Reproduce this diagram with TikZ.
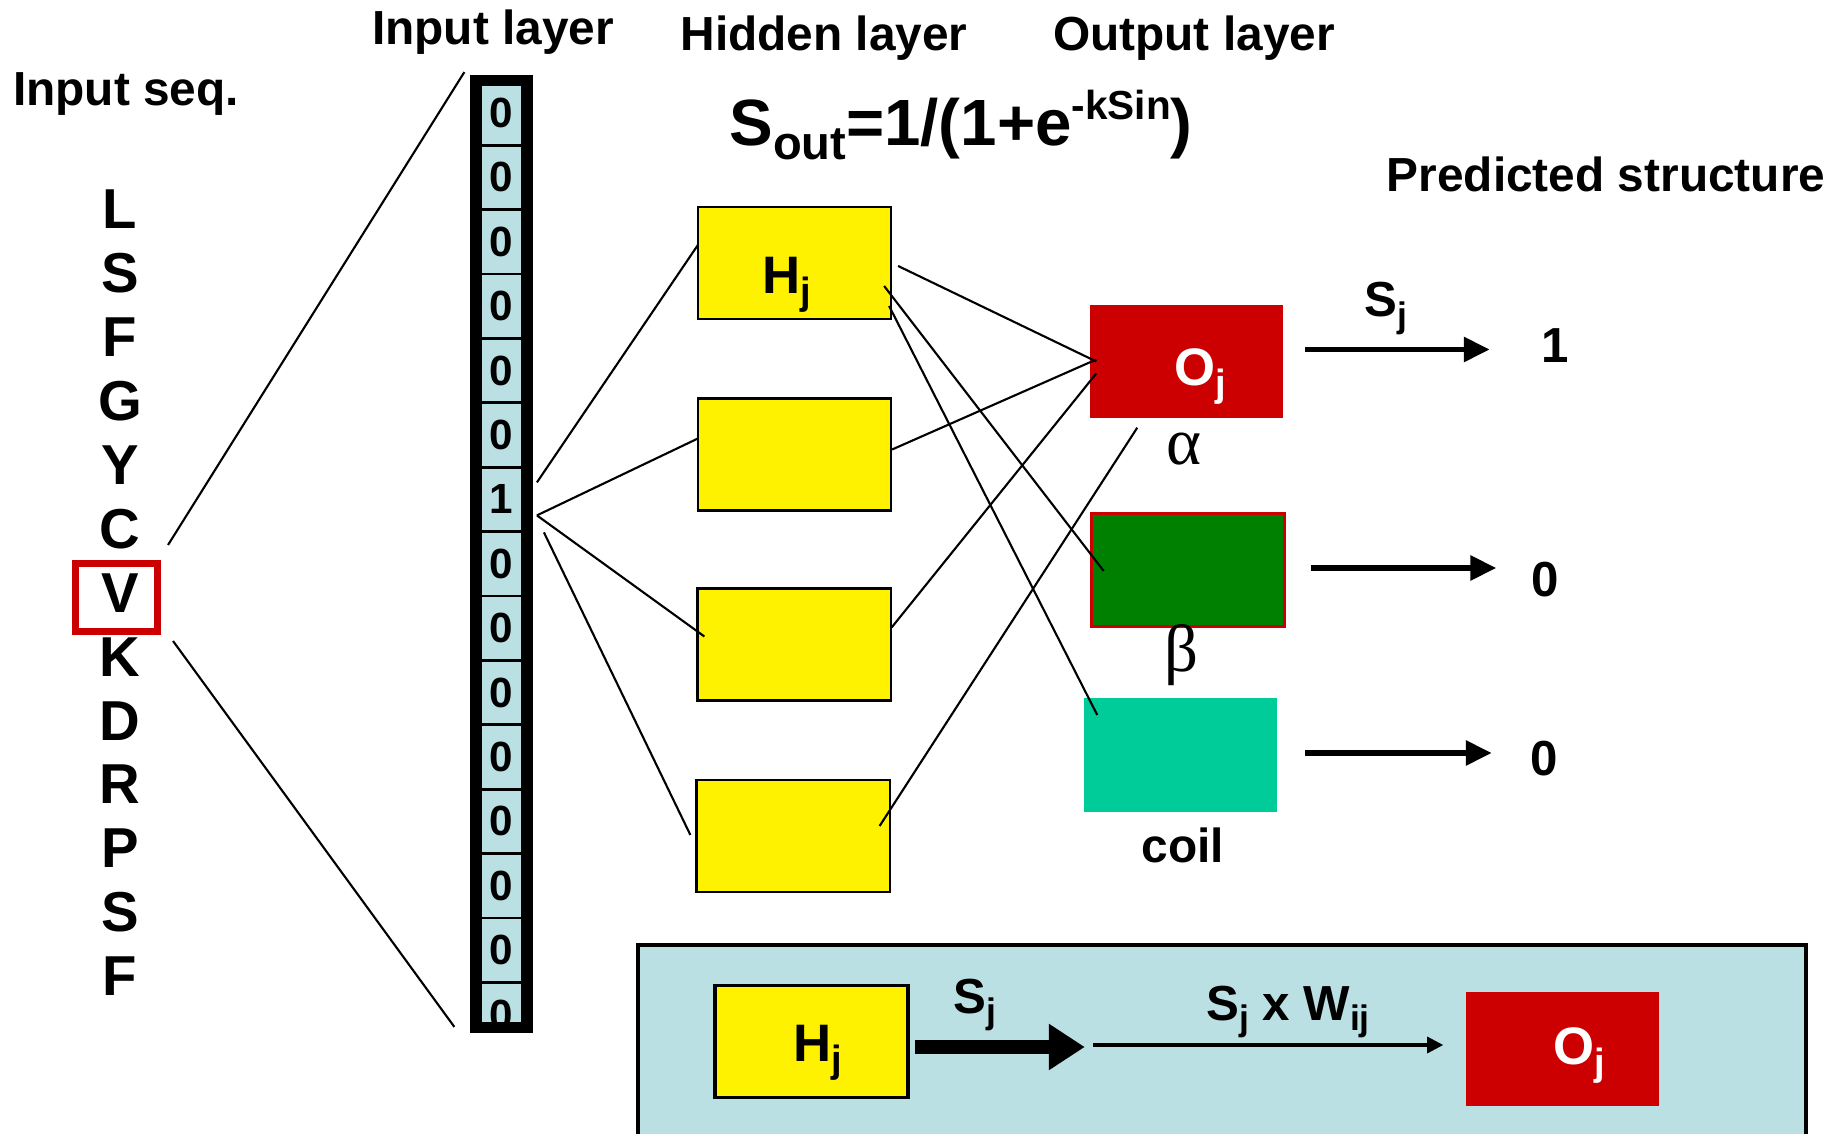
\documentclass[tikz,border=0pt]{standalone}
\usepackage{fontspec}
\setmainfont{Liberation Sans}
\newfontfamily\greekfont{Liberation Serif}
\usetikzlibrary{arrows.meta}
\definecolor{cellblue}{HTML}{BBE0E3}
\definecolor{outred}{HTML}{CC0000}
\definecolor{betagreen}{HTML}{008000}
\definecolor{coilgreen}{HTML}{00CC99}
\newcommand{\lowtxt}[1]{\raisebox{-0.4ex}{\scalebox{0.72}{#1}}}
\newcommand{\hightxt}[1]{\raisebox{0.77ex}{\scalebox{0.62}{#1}}}

\begin{document}
\begin{tikzpicture}[x=0.01cm, y=-0.01cm,
    title/.style={font=\bfseries\fontsize{13.6}{16}\selectfont},
    residue/.style={font=\bfseries\fontsize{16}{19}\selectfont},
    formula/.style={font=\bfseries\fontsize{18.6}{22}\selectfont},
    greek/.style={font=\greekfont\fontsize{19}{22}\selectfont},
    boxtext/.style={font=\bfseries\fontsize{15}{18}\selectfont, inner sep=0pt},
    arrowtext/.style={font=\bfseries\fontsize{14}{17}\selectfont},
    bit/.style={draw, line width=0.8pt, fill=cellblue, minimum width=0.54cm,
      minimum height=0.644cm, inner sep=0pt, font=\bfseries\fontsize{12}{14}\selectfont},
    hidden/.style={draw, line width=0.6pt, fill=yellow, minimum width=1.93cm, minimum height=1.12cm},
    output/.style={minimum width=1.93cm, minimum height=1.13cm},
    wire/.style={line width=0.6pt},
    outarrow/.style={line width=1.7pt, -{Triangle[length=0.26cm, width=0.24cm]}},
  ]
  \useasboundingbox (0,0) rectangle (1845,1134);

  % headings
  \node[title] (tseq) at (126,94) {Input seq.};
  \node[title] (tin) at (493,32) {Input layer};
  \node[title] (thid) at (824,38) {Hidden layer};
  \node[title] (tout) at (1194,38) {Output layer};
  \node[title] (tpred) at (1606,174) {Predicted structure};
  \node[formula] (sout) at (961,125) {S\lowtxt{out}=1/(1+e\hightxt{-kSin})};

  % input sequence
  \foreach \a [count=\i] in {L,S,F,G,Y,C,V,K,D,R,P,S,F}
    \node[residue] (s\i) at (120,{209.5+(\i-1)*63.9}) {\a};
  \node[draw=outred, line width=2pt, minimum width=0.82cm, minimum height=0.68cm] (vbox) at (116.5,597.5) {};

  % input layer column
  \begin{scope}
    \clip (476,81) rectangle (527,1027);
    \foreach \v [count=\i] in {0,0,0,0,0,0,1,0,0,0,0,0,0,0,0}
      \node[bit] (c\i) at (501.5,{113+(\i-1)*64.4}) {\v};
  \end{scope}
  \node[draw, line width=3.2pt, minimum width=0.51cm, minimum height=9.46cm, inner sep=0pt] (col) at (501.5,554) {};

  \draw[wire] ([shift={(7,-15)}]vbox.north east) -- ([shift={(-6,-3)}]col.north west);
  \draw[wire] ([shift={(12,6)}]vbox.south east) -- ([shift={(-16,-6)}]col.south west);

  % hidden layer
  \node[hidden] (h1) at (794.5,263) {};
  \node[hidden] (h2) at (794.5,454.5) {};
  \node[hidden] (h3) at (794,644.5) {};
  \node[hidden] (h4) at (793,836) {};
  \node[boxtext] (hj) at ([shift={(-7.5,22)}]h1.center) {H\lowtxt{j}};

  % output layer
  \node[output, fill=outred] (o) at (1186.5,361.5) {};
  \node[output, fill=betagreen, draw=outred, line width=1pt] (g) at (1188,570) {};
  \node[output, fill=coilgreen] (coil) at (1180.5,755) {};
  \node[boxtext, text=white] (oj) at ([shift={(14,15)}]o.center) {O\lowtxt{j}};
  \node[greek] (lalpha) at (1184,449) {α};
  \node[greek] (lbeta) at (1181,655) {β};
  \node[title] (lcoil) at (1183,845) {coil};

  \draw[wire] ([shift={(7,-17)}]c7.east) -- ([shift={(1,-18)}]h1.west);
  \draw[wire] ([shift={(7,16)}]c7.east) -- ([shift={(1,-16)}]h2.west);
  \draw[wire] ([shift={(7,16)}]c7.east) -- ([shift={(8,-8)}]h3.west);
  \draw[wire] ([shift={(14,33)}]c7.east) -- ([shift={(-5,-1)}]h4.west);

  \draw[wire] ([shift={(6,3)}]h1.east) -- ([shift={(7,0)}]o.west);
  \draw[wire] ([shift={(0,-5)}]h2.east) -- ([shift={(7,-2)}]o.west);
  \draw[wire] ([shift={(0,-17)}]h3.east) -- ([shift={(7,12)}]o.west);
  \draw[wire] ([shift={(-11,-10)}]h4.east) -- ([shift={(48,9)}]o.south west);
  \draw[wire] ([shift={(-8,23)}]h1.east) -- ([shift={(14,1)}]g.west);
  \draw[wire] ([shift={(-3,43)}]h1.east) -- ([shift={(14,-40)}]coil.west);

  % predicted structure
  \draw[outarrow] ([shift={(21,-12)}]o.east) -- ++(185,0);
  \draw[outarrow] ([shift={(25,-2)}]g.east) -- ++(185,0);
  \draw[outarrow] ([shift={(27,-2)}]coil.east) -- ++(187,0);
  \node[arrowtext] (lsj) at (1386,308.5) {S\lowtxt{j}};
  \node[arrowtext] (r1) at (1555.5,346) {1};
  \node[arrowtext] (r2) at (1545,579.5) {0};
  \node[arrowtext] (r3) at (1544,759) {0};

  % signal passing panel
  \fill[cellblue] (638,945) rectangle (1806,1134);
  \draw[line width=1pt] (638,1134) -- (638,945) -- (1806,945) -- (1806,1134);
  \node[hidden, line width=1pt] (ph) at (811.5,1041.5) {};
  \node[output, fill=outred] (po) at (1562.5,1049) {};
  \node[boxtext] (phj) at ([shift={(6.5,11.5)}]ph.center) {H\lowtxt{j}};
  \node[boxtext, text=white] (poj) at ([shift={(16.5,6.5)}]po.center) {O\lowtxt{j}};
  \draw[line width=4pt, -{Triangle[length=0.36cm, width=0.44cm]}] ([shift={(5,5.5)}]ph.east) -- ++(170,0);
  \draw[line width=0.9pt, -{Triangle[length=0.16cm, width=0.16cm]}] ([shift={(-372,-4)}]po.west) -- ([shift={(-22,-4)}]po.west);
  \node[arrowtext] (psj) at (974.5,1005) {S\lowtxt{j}};
  \node[arrowtext] (psw) at (1288,1012) {S\lowtxt{j} x W\lowtxt{ij}};
\end{tikzpicture}
\end{document}
